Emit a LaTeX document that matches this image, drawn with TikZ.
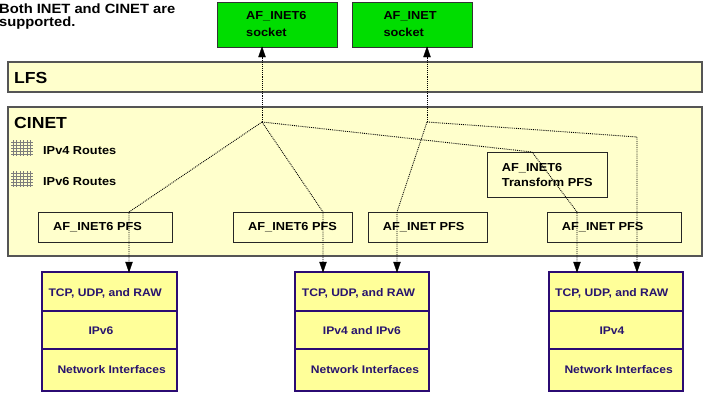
\documentclass[tikz,border=0pt]{standalone}
\usepackage{fontspec}
\setmainfont{Liberation Sans}[FakeStretch=1.1]
\usetikzlibrary{arrows.meta}
\definecolor{sockgreen}{RGB}{0,221,0}
\definecolor{bandfill}{RGB}{255,255,204}
\definecolor{bandline}{RGB}{85,85,85}
\definecolor{stackfill}{RGB}{255,255,153}
\definecolor{stackline}{RGB}{43,11,115}
\definecolor{stacktext}{RGB}{40,20,110}
\definecolor{gridgray}{RGB}{125,125,125}

\begin{document}
\begin{tikzpicture}[x=1pt,y=-1pt,
  box/.style={anchor=north west, inner sep=0pt, outer sep=0pt},
  sock/.style={box, draw=black!80, line width=1pt, fill=sockgreen},
  band/.style={box, draw=bandline, line width=1.3pt, fill=bandfill},
  pfs/.style={box, draw=black!85, line width=1pt, fill=bandfill},
  layer/.style={box, draw=stackline, line width=1.8pt, fill=stackfill},
  lbl/.style={anchor=base west, inner sep=0pt, font=\fontsize{11.6}{14}\selectfont\bfseries},
  big/.style={lbl, font=\fontsize{16}{19}\selectfont\bfseries},
  stk/.style={lbl, text=stacktext, font=\fontsize{11}{13}\selectfont\bfseries},
  conn/.style={densely dotted, line width=0.9pt, black},
  headfill/.style={fill=black, draw=black, line width=0.4pt, line join=miter}
]
\useasboundingbox (0,0) rectangle (703,402);

% heading
\node[lbl, font=\fontsize{13.4}{15}\selectfont\bfseries] (h1txt) at (-1,13.3) {Both INET and CINET are};
\node[lbl, font=\fontsize{13.4}{15}\selectfont\bfseries] (h2txt) at (-1,26.8) {supported.};

% sockets
\node[sock, minimum width=120pt, minimum height=45pt] (s6) at (217,2) {};
\node[lbl] at (246,19.3) {AF\_INET6};
\node[lbl] at (246,36.8) {socket};
\node[sock, minimum width=120pt, minimum height=45pt] (s4) at (352,2) {};
\node[lbl] at (383.3,19.3) {AF\_INET};
\node[lbl] at (383.3,36.8) {socket};

% LFS and CINET layers
\node[band, minimum width=694pt, minimum height=30pt] (lfs) at (8,62) {};
\node[big] at (14,83) {LFS};
\node[band, minimum width=694pt, minimum height=149pt] (cinet) at (8,107) {};
\node[big] at (14,128.3) {CINET};

% routing tables
\foreach \yy/\name in {140/IPv4, 171/IPv6}{
  \begin{scope}[gridgray, line width=0.7pt]
    \foreach \dx in {0,3.5,...,18}
      \draw (13+\dx,\yy) -- (13+\dx,\yy+16);
    \foreach \dy in {2,5,...,15}
      \draw (11,\yy+\dy) -- (33,\yy+\dy);
  \end{scope}
}
\node[lbl] (r4) at (43,154.3) {IPv4 Routes};
\node[lbl] (r6) at (43,185.3) {IPv6 Routes};

% protocol family switches
\node[pfs, minimum width=134pt, minimum height=30pt] (p1) at (38,212) {};
\node[lbl] at (53,230.7) {AF\_INET6 PFS};
\node[pfs, minimum width=119pt, minimum height=30pt] (p2) at (233,212) {};
\node[lbl] at (248,230.7) {AF\_INET6 PFS};
\node[pfs, minimum width=119pt, minimum height=30pt] (p3) at (368,212) {};
\node[lbl] at (382.7,230.7) {AF\_INET PFS};
\node[pfs, minimum width=134pt, minimum height=30pt] (p4) at (547,212) {};
\node[lbl] at (561.7,230.7) {AF\_INET PFS};
\node[pfs, minimum width=120pt, minimum height=45pt] (tp) at (487,152) {};
\node[lbl] at (501.7,171) {AF\_INET6};
\node[lbl] at (501.7,186) {Transform PFS};

% connector routing points
\coordinate (hub6) at (262,122);
\coordinate (hub4) at (427,122);
\coordinate (k1) at (129,212);
\coordinate (k2) at (323,212);
\coordinate (k3) at (397,212);
\coordinate (k4) at (532,152);
\coordinate (k5) at (577,212);
\coordinate (k6) at (637,137);

% stacks
\foreach \n/\x/\w in {a/42/135, b/295/134, c/549/134}{
  \node[layer, minimum width=\w pt, minimum height=39pt] (\n top) at (\x,272) {};
  \node[layer, minimum width=\w pt, minimum height=38pt] (\n mid) at (\x,311) {};
  \node[layer, minimum width=\w pt, minimum height=42pt] (\n bot) at (\x,349) {};
}
\node[stk] at (48.3,296.7) {TCP, UDP, and RAW};
\node[stk] at (88.3,334) {IPv6};
\node[stk] at (57.3,373.3) {Network Interfaces};
\node[stk] at (301.7,296.7) {TCP, UDP, and RAW};
\node[stk] at (322.7,334) {IPv4 and IPv6};
\node[stk] at (310.7,373.3) {Network Interfaces};
\node[stk] at (555,296.7) {TCP, UDP, and RAW};
\node[stk] at (599.3,334) {IPv4};
\node[stk] at (564.3,373.3) {Network Interfaces};

% connector targets
\coordinate (e6) at (hub6 |- s6.south);
\coordinate (e4) at (hub4 |- s4.south);
\coordinate (ea) at (k1 |- atop.north);
\coordinate (eb1) at (k2 |- btop.north);
\coordinate (eb2) at (k3 |- btop.north);
\coordinate (ec1) at (k5 |- ctop.north);
\coordinate (ec2) at (k6 |- ctop.north);

% dotted connectors
\draw[conn] (hub6) -- (e6);
\draw[conn] (hub4) -- (e4);
\draw[conn] (hub6) -- (k1) -- (ea);
\draw[conn] (hub6) -- (k2) -- (eb1);
\draw[conn] (hub4) -- (k3) -- (eb2);
\draw[conn] (hub6) -- (k4) -- (k5) -- (ec1);
\draw[conn] (hub4) -- (k6) -- (ec2);

% filled arrowheads at the connector ends
\foreach \e in {e6, e4}
  \path[headfill] (\e) -- ++(-3.5,10) -- ++(7,0) -- cycle;
\foreach \e in {ea, eb1, eb2, ec1, ec2}
  \path[headfill] (\e) -- ++(-3.5,-10) -- ++(7,0) -- cycle;
\end{tikzpicture}
\end{document}
